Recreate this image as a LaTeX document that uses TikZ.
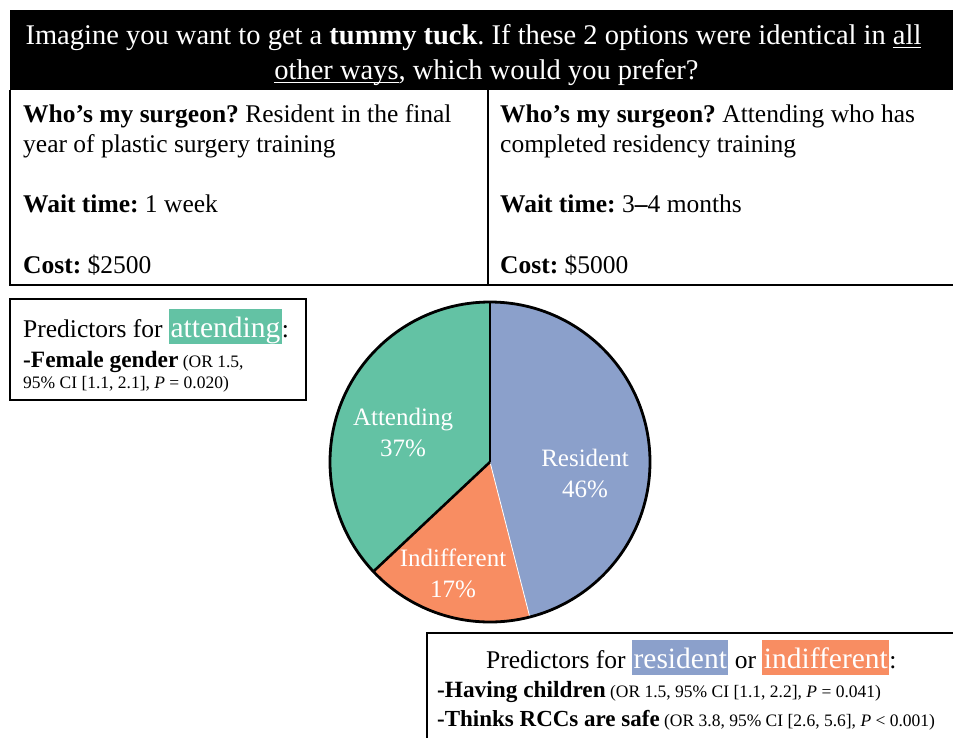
\documentclass[tikz,border=0pt]{standalone}
\usepackage{fontspec}
\setmainfont{Liberation Serif}
\frenchspacing
\definecolor{resblue}{HTML}{8BA0CB}
\definecolor{indorange}{HTML}{F88D62}
\definecolor{attgreen}{HTML}{63C2A4}
\newcommand{\myul}[1]{\setbox0\hbox{#1}\rlap{\rule[-4pt]{\wd0}{1.4pt}}\box0}
\newcommand{\hlword}[2]{{\setlength{\fboxsep}{0pt}\colorbox{#1}{\rule[-7pt]{0pt}{35pt}\hspace{1.5pt}\textcolor{white}{\fontsize{29.5}{30}\selectfont #2}\hspace{1.5pt}}}}
\begin{document}
\begin{tikzpicture}[x=1pt,y=-1pt,
  hdr/.style={anchor=base, inner sep=0pt, text=white, font=\fontsize{28.5}{35}\selectfont},
  cell/.style={anchor=base west, inner sep=0pt, font=\fontsize{25.5}{31}\selectfont},
  pred/.style={anchor=base west, inner sep=0pt, font=\fontsize{25.5}{31}\selectfont},
  stat/.style={anchor=base west, inner sep=0pt, font=\fontsize{17.5}{20}\selectfont},
  pielabel/.style={align=center, inner sep=0pt, text=white, font=\fontsize{25}{31}\selectfont},
  frame/.style={draw=black, line width=1.6pt}]
\useasboundingbox (0,0) rectangle (953,737);

% header and table
\fill[black] (10,10) rectangle (965,90);
\draw[frame] (10,90) -- (10,285) -- (965,285);
\draw[frame] (488,90) -- (488,285);
\node[hdr] (h1) at (473.5,44) {Imagine you want to get a \textbf{tummy tuck}. If these 2 options were identical in \myul{all}};
\node[hdr] (h2) at (486.5,79) {\myul{other ways}, which would you prefer?};

\node[cell] (l1) at (23,122) {\textbf{Who’s my surgeon?} Resident in the final};
\node[cell] (l2) at (23,152) {year of plastic surgery training};
\node[cell] (l3) at (23,212) {\textbf{Wait time:} 1 week};
\node[cell] (l4) at (23,273) {\textbf{Cost:} \$2500};
\node[cell] (r1) at (500,122) {\textbf{Who’s my surgeon?} Attending who has};
\node[cell] (r2) at (500,152) {completed residency training};
\node[cell] (r3) at (500,212) {\textbf{Wait time:} 3\textbf{–}4 months};
\node[cell] (r4) at (500,273) {\textbf{Cost:} \$5000};

% attending predictors box
\draw[frame] (10,299) rectangle (306,400);
\node[pred] (ap) at (23,337) {Predictors for \hlword{attgreen}{attending}:};
\node[stat] (af) at (23,367) {{\fontsize{23.4}{28}\selectfont\textbf{-Female gender}} (OR 1.5,};
\node[stat] (ac) at (23,388) {95\% CI [1.1, 2.1], \textit{P} = 0.020)};

% pie chart
\coordinate (pc) at (490,462);
\fill[resblue] (pc) -- ++(-90:160) arc[start angle=-90, end angle=75.6, radius=160] -- cycle;
\fill[indorange] (pc) -- ++(75.6:160) arc[start angle=75.6, end angle=136.8, radius=160] -- cycle;
\fill[attgreen] (pc) -- ++(136.8:160) arc[start angle=136.8, end angle=270, radius=160] -- cycle;
\draw[white, line width=0.8pt] (pc) -- ++(75.6:160);
\draw[black, line width=2.6pt] (pc) -- ++(-90:160);
\draw[black, line width=2.6pt] (pc) -- ++(136.8:160);
\draw[black, line width=2.8pt] (pc) circle[radius=160];
\node[pielabel] (la) at (403,432) {Attending\\37\%};
\node[pielabel] (lr) at (585,473) {Resident\\46\%};
\node[pielabel] (li) at (453,573) {Indifferent\\17\%};

% resident / indifferent predictors box
\draw[frame] (427,633) rectangle (965,750);
\node[pred] (rp) at (486,668) {Predictors for \hlword{resblue}{resident} or \hlword{indorange}{indifferent}:};
\node[stat] (rh) at (437,697) {{\fontsize{23.3}{28}\selectfont\textbf{-Having children}} (OR 1.5, 95\% CI [1.1, 2.2], \textit{P} = 0.041)};
\node[stat] (rt) at (437,726) {{\fontsize{23}{28}\selectfont\textbf{-Thinks RCCs are safe}} (OR 3.8, 95\% CI [2.6, 5.6], \textit{P} < 0.001)};
\end{tikzpicture}
\end{document}
